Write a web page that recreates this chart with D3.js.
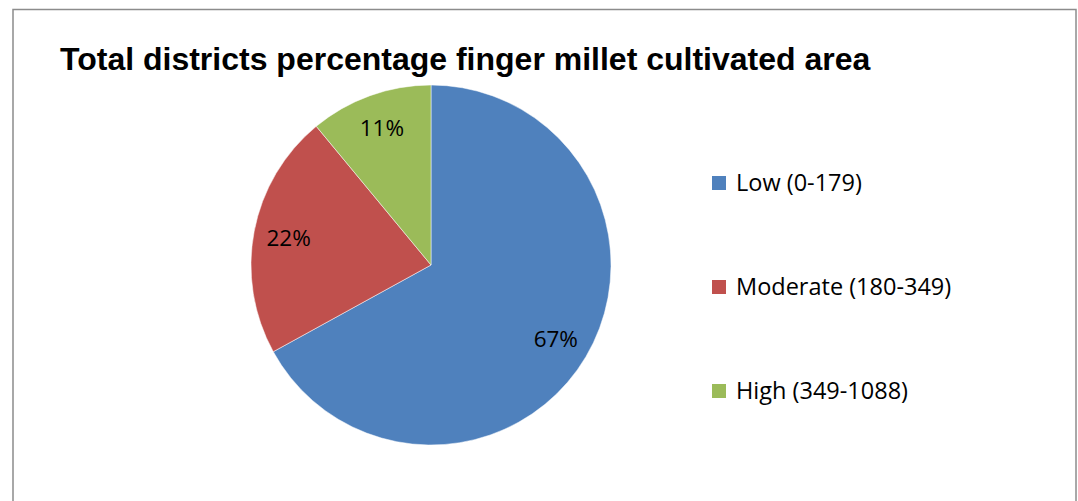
<!DOCTYPE html>
<html>
<head>
<meta charset="utf-8">
<script src="https://cdn.jsdelivr.net/npm/d3@7"></script>
<style>
  body { margin: 0; background: #fff; }
</style>
</head>
<body>
<div id="chart"></div>
<script>
var categories = ["Low (0-179)", "Moderate (180-349)", "High (349-1088)"];
var values = [67, 22, 11];
var colors = ["#4F81BD", "#C0504D", "#9BBB59"];
var title = "Total districts percentage finger millet cultivated area";

var width = 1078, height = 501;

var svg = d3.select("#chart").append("svg")
    .attr("width", width)
    .attr("height", height);

// chart frame
svg.append("rect")
    .attr("x", 13)
    .attr("y", 9.5)
    .attr("width", 1063)
    .attr("height", 520)
    .style("fill", "none")
    .style("stroke", "#8c8c8c")
    .style("stroke-width", 1.5);

svg.append("text")
    .attr("x", 60)
    .attr("y", 70)
    .attr("font-family", "Liberation Sans, Arial, sans-serif")
    .attr("font-weight", "bold")
    .attr("font-size", "32px")
    .attr("fill", "#000")
    .text(title);

var radius = 180;
var g = svg.append("g")
    .attr("transform", "translate(431,265)");

var data = categories.map(function(c, i) { return {name: c, value: values[i], color: colors[i]}; });

var pie = d3.pie().sort(null).value(function(d) { return d.value; });
var arc = d3.arc().innerRadius(0).outerRadius(radius);
var labelArc = d3.arc().innerRadius(145).outerRadius(145);

var arcs = pie(data);

g.selectAll("path.slice")
    .data(arcs)
  .enter().append("path")
    .attr("class", "slice")
    .attr("d", arc)
    .attr("fill", function(d) { return d.data.color; })
    .attr("stroke", "#fff")
    .attr("stroke-width", 0.5);

g.selectAll("text.lbl")
    .data(arcs)
  .enter().append("text")
    .attr("class", "lbl")
    .attr("transform", function(d) { return "translate(" + labelArc.centroid(d) + ")"; })
    .attr("text-anchor", "middle")
    .attr("dy", "0.35em")
    .attr("font-family", "'Open Sans', sans-serif")
    .attr("font-size", "22.5px")
    .attr("fill", "#000")
    .text(function(d) { return d.data.value + "%"; });

// legend
var legendY = d3.scalePoint().domain(categories).range([183, 391]);

var legend = svg.selectAll("g.legend")
    .data(data)
  .enter().append("g")
    .attr("class", "legend")
    .attr("transform", function(d) { return "translate(712," + legendY(d.name) + ")"; });

legend.append("rect")
    .attr("x", 0)
    .attr("y", -7)
    .attr("width", 14)
    .attr("height", 14)
    .attr("fill", function(d) { return d.color; });

legend.append("text")
    .attr("x", 24)
    .attr("dy", "0.35em")
    .attr("font-family", "'Open Sans', sans-serif")
    .attr("font-size", "23.5px")
    .attr("fill", "#000")
    .text(function(d) { return d.name; });
</script>
</body>
</html>
